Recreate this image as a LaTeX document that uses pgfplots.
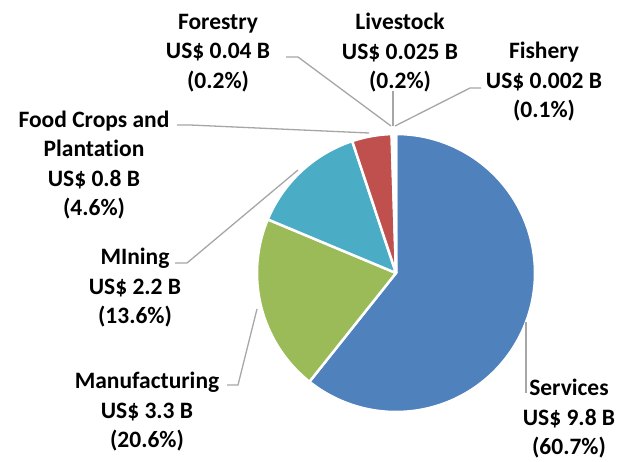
\documentclass[border=0pt]{standalone}
\usepackage{pgfplots}
\pgfplotsset{compat=1.18}
\usepackage{fontspec}
\setmainfont{Carlito}[Ligatures=NoCommon]
\definecolor{cServ}{HTML}{4F81BD}
\definecolor{cManu}{HTML}{9BBB59}
\definecolor{cMin}{HTML}{4BACC6}
\definecolor{cFood}{HTML}{C0504D}
\definecolor{cFor}{HTML}{8064A2}
\definecolor{cLive}{HTML}{F79646}
\definecolor{cFish}{HTML}{2C4D75}
\definecolor{cLead}{HTML}{A6A6A6}
% shares (%)
\def\pServ{60.7}\def\pManu{20.6}\def\pMin{13.6}\def\pFood{4.6}
\def\pFor{0.2}\def\pLive{0.2}\def\pFish{0.1}
\pgfmathsetmacro\aA{90}
\pgfmathsetmacro\aB{\aA-3.6*\pServ}
\pgfmathsetmacro\aC{\aB-3.6*\pManu}
\pgfmathsetmacro\aD{\aC-3.6*\pMin}
\pgfmathsetmacro\aE{\aD-3.6*\pFood}
\pgfmathsetmacro\aF{\aE-3.6*\pFor}
\pgfmathsetmacro\aG{\aF-3.6*\pLive}
\pgfmathsetmacro\aH{\aG-3.6*\pFish}
\def\cx{396}\def\cy{188}\def\rr{139}
\tikzset{lbl/.style={font=\fontsize{23.5}{29.5}\selectfont\bfseries, align=center, text=black, inner sep=0pt}}
\begin{document}
\begin{tikzpicture}
\begin{axis}[
  width=621pt, height=461pt, scale only axis,
  xmin=0, xmax=621, ymin=0, ymax=461,
  hide axis, clip=false,
]
\pgfplotsset{sector/.style={draw=white, line width=2.5pt, line join=round}}
\addplot[sector, fill=cServ, domain=\aB:\aA, samples=120] ({\cx+\rr*cos(x)},{\cy+\rr*sin(x)}) -- (axis cs:\cx,\cy) -- cycle;
\addplot[sector, fill=cManu, domain=\aC:\aB, samples=60] ({\cx+\rr*cos(x)},{\cy+\rr*sin(x)}) -- (axis cs:\cx,\cy) -- cycle;
\addplot[sector, fill=cMin, domain=\aD:\aC, samples=40] ({\cx+\rr*cos(x)},{\cy+\rr*sin(x)}) -- (axis cs:\cx,\cy) -- cycle;
\addplot[sector, fill=cFood, domain=\aE:\aD, samples=20] ({\cx+\rr*cos(x)},{\cy+\rr*sin(x)}) -- (axis cs:\cx,\cy) -- cycle;
\addplot[sector, fill=cFor, domain=\aF:\aE, samples=3] ({\cx+\rr*cos(x)},{\cy+\rr*sin(x)}) -- (axis cs:\cx,\cy) -- cycle;
\addplot[sector, fill=cLive, domain=\aG:\aF, samples=3] ({\cx+\rr*cos(x)},{\cy+\rr*sin(x)}) -- (axis cs:\cx,\cy) -- cycle;
\addplot[sector, fill=cFish, domain=\aH:\aG, samples=3] ({\cx+\rr*cos(x)},{\cy+\rr*sin(x)}) -- (axis cs:\cx,\cy) -- cycle;
% leader lines
\pgfplotsset{lead/.style={draw=cLead, line width=1.3pt, mark=none}}
\addplot[lead] coordinates {(286,404) (298,404) (391,335)};
\addplot[lead] coordinates {(393,370) (393,335)};
\addplot[lead] coordinates {(481,373) (470,373) (395,335)};
\addplot[lead] coordinates {(177,336) (190,336) (369,328)};
\addplot[lead] coordinates {(175,198) (187,198) (298,291)};
\addplot[lead] coordinates {(227,76) (238,76) (257,152)};
\addplot[lead] coordinates {(526,139) (526,68)};
% labels
\node[lbl] at (axis cs:218,408) {Forestry\\US\$ 0.04 B\\(0.2\%)};
\node[lbl] at (axis cs:400,408) {Livestock\\US\$ 0.025 B\\(0.2\%)};
\node[lbl] at (axis cs:544,379) {Fishery\\US\$ 0.002 B\\(0.1\%)};
\node[lbl] at (axis cs:94,296) {Food Crops and\\Plantation\\US\$ 0.8 B\\(4.6\%)};
\node[lbl] at (axis cs:135,173) {MIning\\US\$ 2.2 B\\(13.6\%)};
\node[lbl] at (axis cs:147,49) {Manufacturing\\US\$ 3.3 B\\(20.6\%)};
\node[lbl] at (axis cs:569,42) {Services\\US\$ 9.8 B\\(60.7\%)};
\end{axis}
\pgfresetboundingbox
\path (current axis.south west) rectangle (current axis.north east);
\end{tikzpicture}
\end{document}
